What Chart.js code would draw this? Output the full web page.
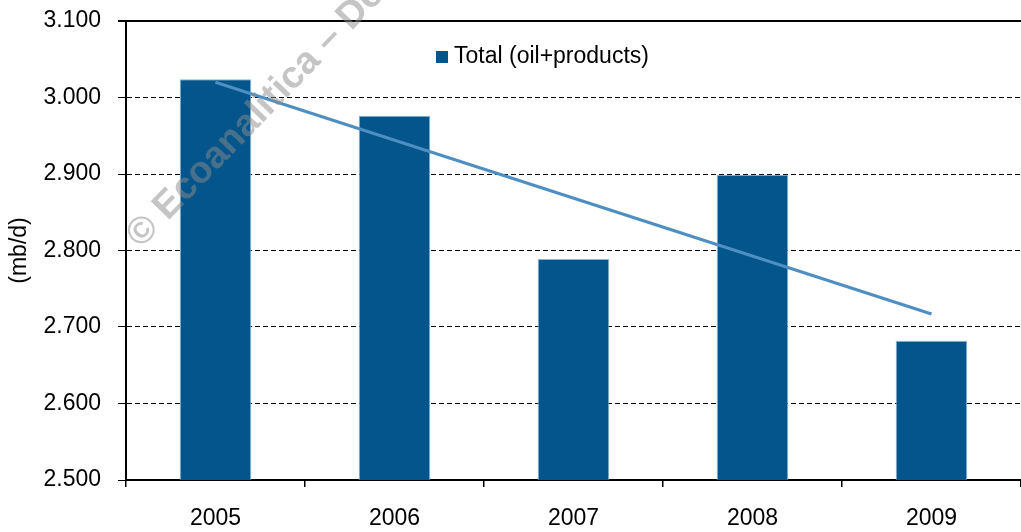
<!DOCTYPE html>
<html>
<head>
<meta charset="utf-8">
<script src="https://cdn.jsdelivr.net/npm/chart.js@4/dist/chart.umd.min.js"></script>
<style>
  html, body { margin: 0; padding: 0; background: #fff; }
  #wrap { width: 1021px; height: 532px; }
</style>
</head>
<body>
<div id="wrap"><canvas id="chart" width="1021" height="532"></canvas></div>
<script>
// data
const years = ['2005', '2006', '2007', '2008', '2009'];
const totalValues = [3.024, 2.976, 2.789, 2.899, 2.682];
const trendValues = [3.020, null, null, null, 2.717];
const yMin = 2.5;
const yMax = 3.1;
const yStep = 0.1;

const FONT = "'Liberation Sans', Arial, sans-serif";
const barColor = '#03558B';
const trendColor = '#4E8FC3';

// legend drawn inside the plot, only the bar series
const innerLegend = {
  id: 'innerLegend',
  afterDraw(chart) {
    const ctx = chart.ctx;
    const area = chart.chartArea;
    const ds = chart.data.datasets[0];
    const x = area.left + 310;
    const y = area.top + 30;
    ctx.save();
    ctx.fillStyle = ds.backgroundColor;
    ctx.fillRect(x, y, 12, 12);
    ctx.fillStyle = '#000';
    ctx.font = '23px ' + FONT;
    ctx.textBaseline = 'middle';
    ctx.fillText(ds.label, x + 18, y + 6);
    ctx.restore();
  }
};

// copyright watermark
const watermark = {
  id: 'watermark',
  afterDraw(chart) {
    const ctx = chart.ctx;
    ctx.save();
    ctx.translate(141, 249);
    ctx.rotate(-46 * Math.PI / 180);
    ctx.font = 'bold 38px ' + FONT;
    ctx.fillStyle = 'rgba(140,140,140,0.5)';
    ctx.textBaseline = 'alphabetic';
    ctx.fillText('\u00A9 Ecoanalitica \u2013 Derechos reservados', 0, 0);
    ctx.restore();
  }
};

new Chart(document.getElementById('chart'), {
  data: {
    labels: years,
    datasets: [
      {
        type: 'bar',
        label: 'Total (oil+products)',
        data: totalValues,
        backgroundColor: barColor,
        borderColor: '#8fb4d4',
        borderWidth: 1,
        barPercentage: 0.4,
        categoryPercentage: 1.0,
        order: 2
      },
      {
        type: 'line',
        label: 'trend',
        data: trendValues,
        spanGaps: true,
        borderColor: trendColor,
        borderWidth: 3,
        pointRadius: 0,
        fill: false,
        order: 1
      }
    ]
  },
  options: {
    responsive: false,
    animation: false,
    layout: { padding: { top: 21, right: 0, bottom: 0, left: 0 } },
    plugins: { legend: { display: false }, tooltip: { enabled: false } },
    scales: {
      x: {
        offset: true,
        grid: { offset: true, drawOnChartArea: false, drawTicks: true, tickLength: 7, color: '#000', lineWidth: 1.5 },
        border: { display: true, color: '#000', width: 2 },
        ticks: { color: '#000', font: { family: FONT, size: 23 }, padding: 18, maxRotation: 0 },
        afterFit(scale) { scale.height = 52; }
      },
      y: {
        min: yMin,
        max: yMax,
        grid: {
          color: '#000',
          lineWidth: c => (c.tick && c.tick.value === yMax ? 2 : 1),
          drawTicks: true,
          tickLength: 8
        },
        border: {
          display: true, color: '#000', width: 2,
          dash: c => (c.tick && c.tick.value === yMax ? [] : [5, 3])
        },
        ticks: {
          stepSize: yStep,
          color: '#000',
          font: { family: FONT, size: 23 },
          padding: 17,
          callback: v => v.toFixed(3)
        },
        title: {
          display: true,
          text: '(mb/d)',
          color: '#000',
          font: { family: FONT, size: 23 },
          padding: { top: 6, bottom: 0 }
        },
        afterFit(scale) {
          scale.width = 126;
          // tick padding would otherwise push the plot top down
          scale.paddingTop = 14;
          scale.paddingBottom = 14;
        }
      }
    }
  },
  plugins: [innerLegend, watermark]
});
</script>
</body>
</html>
